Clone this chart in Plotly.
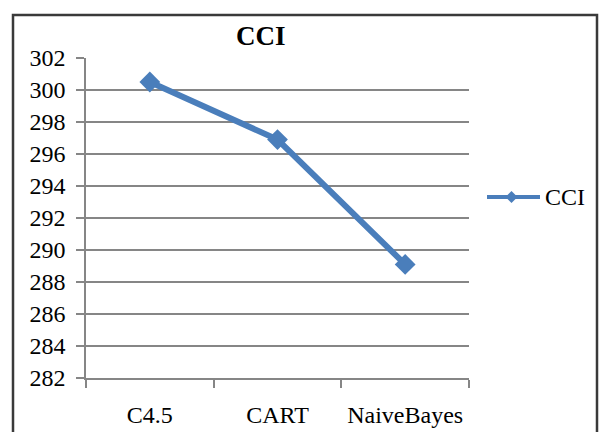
import plotly.graph_objects as go

# Correctly classified instances per classifier
categories = ["C4.5", "CART", "NaiveBayes"]
cci_values = [300.5, 296.9, 289.1]
series_name = "CCI"
y_ticks = [282, 284, 286, 288, 290, 292, 294, 296, 298, 300, 302]

W, H = 602, 432
L, R, T, B = 86, 133, 58, 54
plot_w = W - L - R
plot_h = H - T - B

BLUE = "#4A7EBB"
GRID = "#868686"
FONT = "Liberation Serif, Times New Roman, serif"


def px_x(px):
    return (px - L) / plot_w


def px_y(py):
    return (H - B - py) / plot_h


fig = go.Figure()
fig.add_trace(go.Scatter(
    x=categories, y=cci_values, name=series_name,
    mode="lines+markers",
    line=dict(color=BLUE, width=6),
    marker=dict(symbol="diamond", size=16, color=BLUE),
    showlegend=False,
))

# Legend entry drawn by hand so the line sample is long
lx0, lx1, ly = 487, 540, 197
dx, dy = 6, 6
mx = (lx0 + lx1) / 2 - 2
shapes = [
    dict(type="rect", xref="paper", yref="paper",
         x0=px_x(13), x1=px_x(597), y0=px_y(445), y1=px_y(15),
         line=dict(color="#3a3a3a", width=2.5), fillcolor="rgba(0,0,0,0)"),
    dict(type="line", xref="paper", yref="paper",
         x0=px_x(lx0), x1=px_x(lx1), y0=px_y(ly), y1=px_y(ly),
         line=dict(color=BLUE, width=4)),
    dict(type="path", xref="paper", yref="paper",
         path=(f"M {px_x(mx - dx)} {px_y(ly)} L {px_x(mx)} {px_y(ly - dy)} "
               f"L {px_x(mx + dx)} {px_y(ly)} L {px_x(mx)} {px_y(ly + dy)} Z"),
         fillcolor=BLUE, line=dict(width=0)),
]

annotations = [
    dict(text="<b>CCI</b>", xref="paper", yref="paper",
         x=px_x(261), y=px_y(36), xanchor="center", yanchor="middle",
         showarrow=False, font=dict(family=FONT, size=27, color="#000")),
    dict(text=series_name, xref="paper", yref="paper",
         x=px_x(543), y=px_y(ly), xanchor="left", yanchor="middle",
         showarrow=False, font=dict(family=FONT, size=24, color="#000")),
]

fig.update_layout(
    width=W, height=H,
    margin=dict(l=L, r=R, t=T, b=B, pad=0, autoexpand=False),
    paper_bgcolor="white", plot_bgcolor="white",
    font=dict(family=FONT, size=24, color="#000"),
    shapes=shapes, annotations=annotations,
    showlegend=False,
)
fig.update_xaxes(
    type="category", range=[-0.5, 2.5], automargin=False,
    tickson="boundaries", ticks="outside", ticklen=8,
    tickcolor=GRID, tickwidth=1.5,
    showline=True, linecolor=GRID, linewidth=1.5,
    showgrid=False, ticklabelstandoff=14,
    tickfont=dict(family=FONT, size=24),
)
fig.update_yaxes(
    range=[282, 302], tickvals=y_ticks, automargin=False,
    ticks="outside", ticklen=8, tickcolor=GRID, tickwidth=1.5,
    showline=True, linecolor=GRID, linewidth=1.5,
    showgrid=True, gridcolor=GRID, gridwidth=1.5,
    zeroline=False, ticklabelstandoff=6,
    tickfont=dict(family=FONT, size=24),
)

fig.write_html("out.html")
